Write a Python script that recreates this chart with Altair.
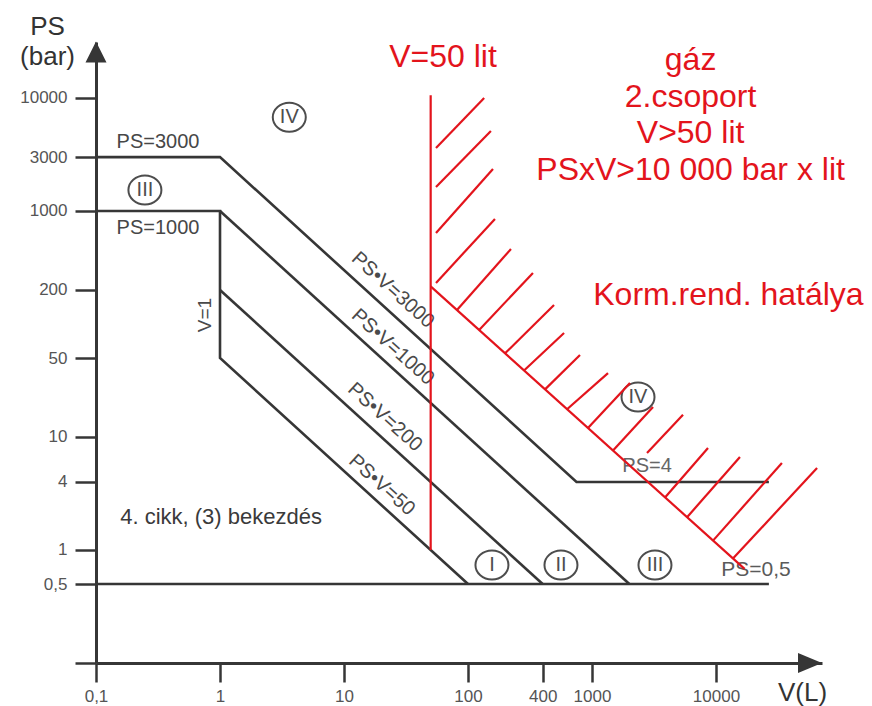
import altair as alt
import pandas as pd

# ---------------- data (V in litres, PS in bar) ----------------
x_ticks = [0.1, 1, 10, 100, 400, 1000, 10000]
y_ticks = [0.1, 0.5, 1, 4, 10, 50, 200, 1000, 3000, 10000]

# black category boundaries (polylines)
line_id = ["ps3000"] * 4 + ["ps1000"] * 4 + ["psv1000"] * 2 + ["psv200"] * 2 + ["ps05"] * 2
line_v = [0.1, 1, 750, 26700, 0.1, 1, 1, 100, 1, 2000, 1, 400, 0.1, 26700]
line_ps = [3000, 3000, 4, 4, 1000, 1000, 50, 0.5, 1000, 0.5, 200, 0.5, 0.5, 0.5]

# red boundary: V = 50 lit and PS*V = 10 000
red_id = ["v50", "v50", "diag", "diag"]
red_v = [50, 50, 50, 17000]
red_ps = [1, 10600, 215, 0.68]

# red hatch strokes (start, end)
hatch_v1 = [55.2, 55.2, 55.2, 55.2, 81.5, 123, 199, 283, 418, 629, 928, 1477, 2778, 3880, 5840, 9460, 13700]
hatch_ps1 = [3610, 1630, 640, 231, 133, 88.6, 55.0, 38.8, 26.4, 17.6, 12.0, 7.59, 7.22, 2.92, 1.95, 1.21, 0.84]
hatch_v2 = [135, 153, 159, 165, 222, 334, 494, 595, 800, 1346, 2024, 3105, 5420, 8620, 15600, 34000, 65300]
hatch_ps2 = [10000, 5100, 2350, 850, 461, 283, 147, 83.2, 53.2, 36.8, 30.0, 18.4, 15.7, 8.0, 6.65, 5.89, 5.32]

# horizontal gray labels
lab_txt = ["PS=3000", "PS=1000", "4. cikk, (3) bekezdés", "PS=4", "PS=0,5"]
lab_v = [0.316, 0.316, 1.02, 2780, 21000]
lab_ps = [4080, 707, 1.96, 5.54, 0.665]
lab_fs = [20, 20, 22, 20, 21]
lab_col = ["#474747", "#474747", "#3a3a3a", "#666666", "#5a5a5a"]

# diagonal labels along the PS*V lines
diag_txt = ["PS•V=3000", "PS•V=1000", "PS•V=200", "PS•V=50"]
diag_v = [24.8, 24.8, 21.4, 20.2]
diag_ps = [200, 62.6, 15.0, 3.76]

# vertical label
vert_txt = ["V=1"]
vert_v = [0.757]
vert_ps = [120]

# red texts
red_txt = ["V=50 lit", "gáz", "2.csoport", "V>50 lit", "PSxV>10 000 bar x lit", "Korm.rend. hatálya"]
red_tv = [62.9, 6240, 6240, 6240, 6240, 12600]
red_tps = [18800, 17520, 8320, 3995, 1880, 147.3]

# circled category numerals
circ_txt = ["IV", "III", "I", "II", "III", "IV"]
circ_v = [3.62, 0.248, 156, 562, 3220, 2350]
circ_ps = [6750, 1535, 0.736, 0.736, 0.736, 22.6]

# axis arrow heads
arrow_y_v, arrow_y_ps = [0.1], [25530]
arrow_x_v, arrow_x_ps = [57300], [0.1]

# ---------------- styling ----------------
DARK = "#363636"
GRAY = "#4d4d4d"
RED = "#e3141c"
FONT = "Liberation Sans"

XS = alt.Scale(type="log", domain=[0.1, 71580], nice=False)
YS = alt.Scale(type="log", domain=[0.1, 31300], nice=False)

x_axis = alt.Axis(
    values=x_ticks,
    labelExpr="replace('' + datum.value, '.', ',')",
    title="V(L)", titleX=706, titleY=29, titleAlign="center", titleBaseline="middle",
    titleFontSize=26, titleFontWeight="normal", titleColor="#333333", titleFont=FONT,
    labelFont=FONT, labelFontSize=17, labelColor="#555555", labelPadding=6,
    labelFlush=False, labelOverlap=False,
    tickSize=19, tickWidth=2.5, tickColor=DARK,
    domainColor=DARK, domainWidth=3, grid=False,
)
y_axis = alt.Axis(
    values=y_ticks,
    labelExpr="datum.value < 0.2 ? '' : replace('' + datum.value, '.', ',')",
    title=["PS", "(bar)"], titleAngle=0, titleX=-49, titleY=-29,
    titleAlign="center", titleBaseline="top", titleLineHeight=30,
    titleFontSize=26, titleFontWeight="normal", titleColor="#333333", titleFont=FONT,
    labelFont=FONT, labelFontSize=17, labelColor="#555555", labelPadding=8,
    labelOverlap=False,
    tickSize=21, tickWidth=2.5, tickColor=DARK,
    domainColor=DARK, domainWidth=3, grid=False,
)


def X(f):
    return alt.X(f, type="quantitative", scale=XS, axis=x_axis)


def Y(f):
    return alt.Y(f, type="quantitative", scale=YS, axis=y_axis)


lines_df = pd.DataFrame({"seg": line_id, "V": line_v, "PS": line_ps, "ord": list(range(len(line_v)))})
red_df = pd.DataFrame({"seg": red_id, "V": red_v, "PS": red_ps, "ord": list(range(len(red_v)))})
hatch_df = pd.DataFrame({"V1": hatch_v1, "PS1": hatch_ps1, "V2": hatch_v2, "PS2": hatch_ps2})
lab_df = pd.DataFrame({"txt": lab_txt, "V": lab_v, "PS": lab_ps, "fs": lab_fs, "col": lab_col})
diag_df = pd.DataFrame({"txt": diag_txt, "V": diag_v, "PS": diag_ps})
vert_df = pd.DataFrame({"txt": vert_txt, "V": vert_v, "PS": vert_ps})
redt_df = pd.DataFrame({"txt": red_txt, "V": red_tv, "PS": red_tps})
circ_df = pd.DataFrame({"txt": circ_txt, "V": circ_v, "PS": circ_ps})
ay_df = pd.DataFrame({"V": arrow_y_v, "PS": arrow_y_ps})
ax_df = pd.DataFrame({"V": arrow_x_v, "PS": arrow_x_ps})

black = alt.Chart(lines_df).mark_line(color=DARK, strokeWidth=2.6).encode(
    x=X("V"), y=Y("PS"), detail="seg:N", order="ord:Q")

red = alt.Chart(red_df).mark_line(color=RED, strokeWidth=2.2).encode(
    x=X("V"), y=Y("PS"), detail="seg:N", order="ord:Q")

hatch = alt.Chart(hatch_df).mark_rule(color=RED, strokeWidth=2.2).encode(
    x=X("V1"), y=Y("PS1"), x2=alt.X2("V2"), y2=alt.Y2("PS2"))

labels = alt.Chart(lab_df).mark_text(font=FONT, align="center", baseline="middle").encode(
    x=X("V"), y=Y("PS"), text="txt:N",
    size=alt.Size("fs:Q", scale=None), color=alt.Color("col:N", scale=None))

diag = alt.Chart(diag_df).mark_text(font=FONT, align="center", baseline="middle",
                                    fontSize=20, angle=42, color="#4a4a4a").encode(
    x=X("V"), y=Y("PS"), text="txt:N")

vert = alt.Chart(vert_df).mark_text(font=FONT, align="center", baseline="middle",
                                    fontSize=19, angle=270, color="#4a4a4a").encode(
    x=X("V"), y=Y("PS"), text="txt:N")

redt = alt.Chart(redt_df).mark_text(font=FONT, align="center", baseline="alphabetic",
                                    fontSize=32, color=RED).encode(
    x=X("V"), y=Y("PS"), text="txt:N")

ELLIPSE = "M-1,0A1,0.88,0,1,0,1,0A1,0.88,0,1,0,-1,0Z"
circles = alt.Chart(circ_df).mark_point(shape=ELLIPSE, filled=False, size=1089,
                                        strokeWidth=2, color=GRAY, opacity=1).encode(
    x=X("V"), y=Y("PS"))
numerals = alt.Chart(circ_df).mark_text(font=FONT, align="center", baseline="middle",
                                        fontSize=20, color=GRAY).encode(
    x=X("V"), y=Y("PS"), text="txt:N")

arrow_y = alt.Chart(ay_df).mark_point(shape="M0,-1L1,1L-1,1Z", filled=True, size=441,
                                      color=DARK, opacity=1).encode(x=X("V"), y=Y("PS"))
arrow_x = alt.Chart(ax_df).mark_point(shape="M1,0L-1,-0.83L-1,0.83Z", filled=True, size=576,
                                      color=DARK, opacity=1).encode(x=X("V"), y=Y("PS"))

chart = alt.layer(
    black, labels, diag, vert, circles, numerals, red, hatch, redt, arrow_y, arrow_x
).properties(
    width=726, height=621,
    padding={"left": 88, "top": 34, "right": 42, "bottom": 43},
    autosize=alt.AutoSizeParams(type="none"),
    background="white",
).configure_view(stroke=None)

chart.save("out.html", embed_options={"renderer": "svg", "actions": False})
